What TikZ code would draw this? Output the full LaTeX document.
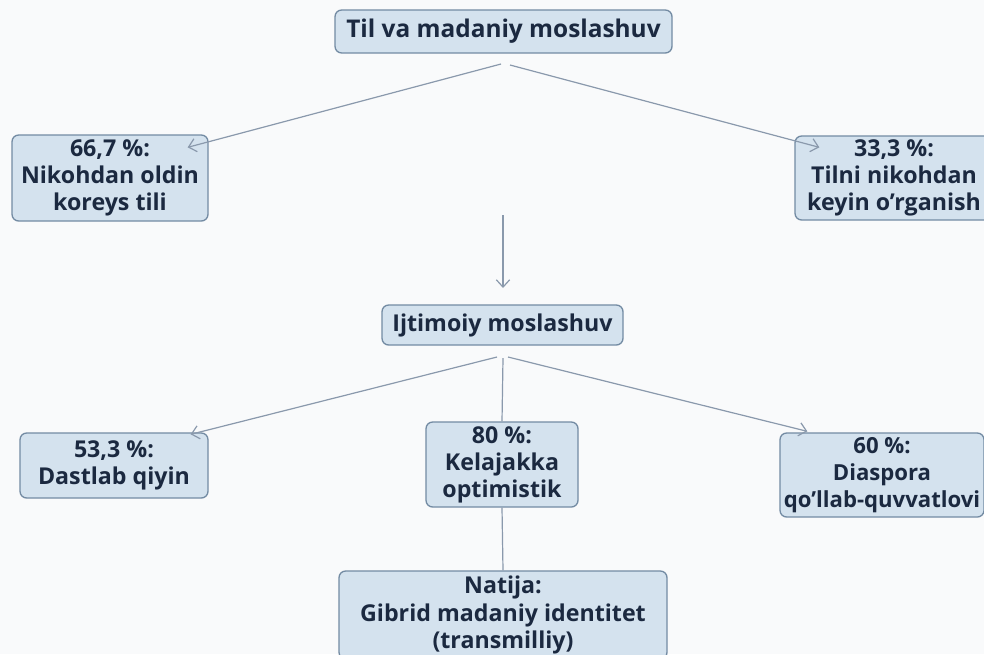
\documentclass[tikz,border=0pt]{standalone}
\usepackage{fontspec}
\setmainfont{Open Sans}
\usetikzlibrary{arrows.meta}
\definecolor{boxfill}{HTML}{D4E2EE}
\definecolor{boxline}{HTML}{738BA3}
\definecolor{txt}{HTML}{1B2940}
\definecolor{conn}{HTML}{8A99AC}
\definecolor{bg}{HTML}{F9FAFB}
\tikzset{
  box/.style={draw=boxline, fill=boxfill, line width=1pt, rounded corners=5pt,
    align=center, text=txt, font=\bfseries\fontsize{17.4}{20.3}\selectfont, inner sep=0pt},
  conline/.style={draw=conn, line width=0.9pt},
  arr/.style={conline, -{Straight Barb[length=5.5pt,width=10pt,line width=0.9pt]}}
}
\begin{document}
\begin{tikzpicture}[x=0.75pt,y=-0.75pt]
\fill[bg] (0,0) rectangle (984,654);
\useasboundingbox (0,0) rectangle (984,654);
\node[box, minimum width=252.75pt, minimum height=32.25pt, font=\bfseries\fontsize{18.3}{22}\selectfont] (top) at (503.5,31.5) {Til va madaniy moslashuv};
\node[box, minimum width=147pt, minimum height=64.5pt] (n1) at (110,178) {66,7 \%:\\Nikohdan oldin\\koreys tili};
\node[box, minimum width=148.5pt, minimum height=63pt] (n2) at (894,178) {33,3 \%:\\Tilni nikohdan\\keyin o’rganish};
\node[box, minimum width=180.75pt, minimum height=30pt] (mid) at (502.5,325) {Ijtimoiy moslashuv};
\node[box, minimum width=141pt, minimum height=48.75pt] (n3) at (114,465.5) {53,3 \%:\\Dastlab qiyin};
\node[box, minimum width=114pt, minimum height=63.75pt] (n4) at (502,464.5) {80 \%:\\Kelajakka\\optimistik};
\node[box, minimum width=153pt, minimum height=63pt, font=\bfseries\fontsize{16.6}{20.3}\selectfont] (n5) at (882,475) {60 \%:\\Diaspora\\qo’llab-quvvatlovi};
\node[box, minimum width=246pt, minimum height=66pt] (n6) at (503,615) {Natija:\\Gibrid madaniy identitet\\(transmilliy)};
\coordinate (s1) at (501,64);
\coordinate (s2) at (510,65);
\coordinate (m1) at (503,215);
\coordinate (m2) at (503,288);
\coordinate (s3) at (497,357);
\coordinate (s4) at (503,358);
\coordinate (s5) at (508,357);
\draw[arr] (s1) -- ([shift={(-21,13)}]n1.north east);
\draw[arr] (s2) -- ([shift={(25,12)}]n2.north west);
\draw[arr] (m1) -- (m2);
\draw[arr] (s3) -- ([shift={(-18,2)}]n3.north east);
\draw[conline] (s4) -- (n4.north);
\draw[arr] (s5) -- ([shift={(28,-1)}]n5.north west);
\draw[conline] (n4.south) -- (n6.north);
\end{tikzpicture}
\end{document}
